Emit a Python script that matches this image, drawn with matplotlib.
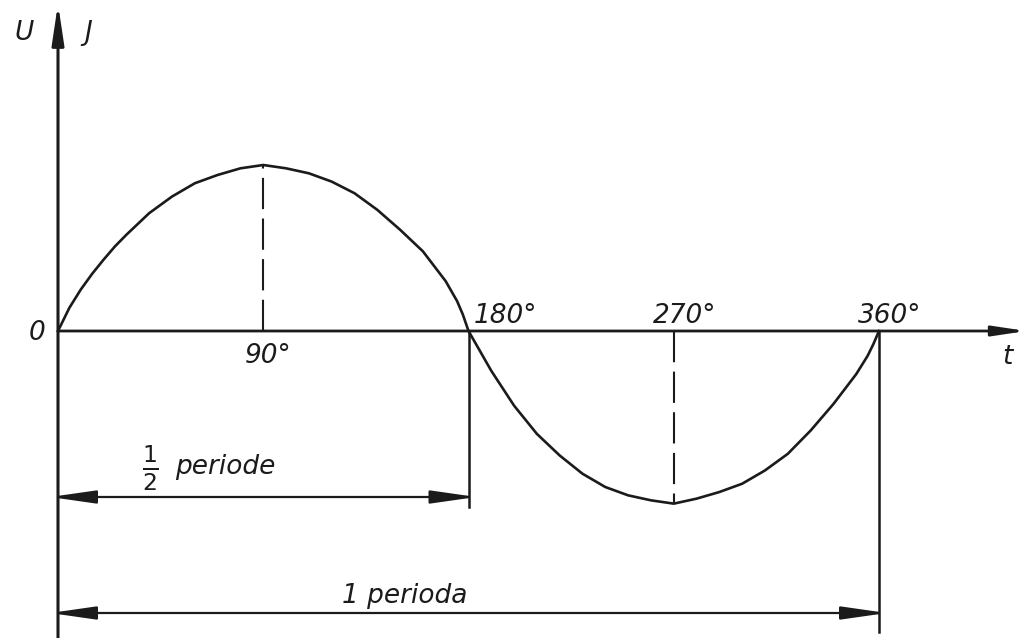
import matplotlib
matplotlib.use("Agg")
import matplotlib.pyplot as plt
import numpy as np

# curve: phase in degrees, amplitude relative to the 90 deg peak
phase_deg = [0, 2.5, 5, 10, 15, 20, 25, 30, 40, 50, 60, 70, 80, 90, 100, 110, 120, 130,
             140, 150, 160, 165, 170, 175, 177.5, 180, 182.5, 185, 190, 200, 210, 220,
             230, 240, 250, 260, 270, 280, 290, 300, 310, 320, 330, 340, 350, 355,
             357.5, 360]
amplitude = [0.00, 0.07, 0.14, 0.25, 0.345, 0.43, 0.51, 0.58, 0.71, 0.81, 0.89, 0.94,
             0.98, 1.00, 0.98, 0.95, 0.90, 0.83, 0.73, 0.61, 0.48, 0.39, 0.30, 0.18,
             0.10, 0.00, -0.06, -0.12, -0.24, -0.45, -0.62, -0.75, -0.86, -0.94,
             -0.99, -1.02, -1.04, -1.01, -0.97, -0.92, -0.84, -0.74, -0.60, -0.44,
             -0.26, -0.15, -0.08, 0.00]
tick_deg = [90, 180, 270, 360]
tick_labels = ["90°", "180°", "270°", "360°"]
half_label = "periode"
full_label = "1 perioda"

INK = "#1b1b1b"

# pixel layout of the original drawing
X0, PX_PER_DEG = 58, 821 / 360
Y0, PX_PER_UNIT = 331, 166


def dx(px):
    return (px - X0) / PX_PER_DEG


def dy(py):
    return (Y0 - py) / PX_PER_UNIT


def arrow(ax, p0, p1, lw, hl, hw, both=False):
    # matplotlib pulls the head tip back by half the stroke over sin(half angle);
    # push the end points out by the same amount so the tips land where drawn
    pad = 0.5 * lw / (hw / np.hypot(hl, hw)) * 100 / 72
    p0, p1 = np.array(p0, float), np.array(p1, float)
    u = (p1 - p0) / np.linalg.norm(p1 - p0)
    p1 = p1 + u * pad
    if both:
        p0 = p0 - u * pad
    style = ("<|-|>" if both else "-|>") + f",head_length={hl},head_width={hw}"
    ax.annotate("", xy=(dx(p1[0]), dy(p1[1])), xytext=(dx(p0[0]), dy(p0[1])),
                annotation_clip=False,
                arrowprops=dict(arrowstyle=style, mutation_scale=20, lw=lw,
                                color=INK, shrinkA=0, shrinkB=0))


fig = plt.figure(figsize=(10.19, 6.38), dpi=100)
ax = fig.add_axes([0, 0, 1, 1])
ax.set_xlim(dx(0), dx(1019))
ax.set_ylim(dy(638), dy(0))
ax.axis("off")

font = dict(family="DejaVu Sans", style="oblique", color=INK, fontsize=19)

# axes with arrows
arrow(ax, (X0, 645), (X0, 14), lw=2.2, hl=1.2, hw=0.18)
arrow(ax, (X0, Y0), (1017, Y0), lw=2.0, hl=1.0, hw=0.15)

# the wave
ax.plot(phase_deg, amplitude, color=INK, lw=1.9, solid_joinstyle="round")

# dashed helpers to peak and trough
i90 = phase_deg.index(90)
i270 = phase_deg.index(270)
ax.plot([90, 90], [0, amplitude[i90]], color=INK, lw=1.5, dashes=(15, 4.5))
ax.plot([270, 270], [0, amplitude[i270]], color=INK, lw=1.5, dashes=(15, 4.5))

# extension lines for the dimensions
ax.plot([180, 180], [0, dy(507)], color=INK, lw=1.8)
ax.plot([360, 360], [0, dy(632)], color=INK, lw=1.8)

x180 = X0 + 180 * PX_PER_DEG
x360 = X0 + 360 * PX_PER_DEG
arrow(ax, (X0, 497), (x180, 497), lw=1.6, hl=1.4, hw=0.2, both=True)
arrow(ax, (X0, 613), (x360, 613), lw=1.6, hl=1.4, hw=0.2, both=True)

# labels
ax.text(dx(24), dy(33), "U", ha="center", va="center", **font)
ax.text(dx(88), dy(33), "J", ha="center", va="center", **font)
ax.text(dx(37), dy(333), "0", ha="center", va="center", **font)
ax.text(dx(1007), dy(357), "t", ha="center", va="center", **font)

label_pos = {90: (268, 356), 180: (505, 316), 270: (685, 316), 360: (890, 316)}
for d, lab in zip(tick_deg, tick_labels):
    px, py = label_pos[d]
    ax.text(dx(px), dy(py), lab, ha="center", va="center", **font)

ax.text(dx(150), dy(468), r"$\frac{1}{2}$", ha="center", va="center",
        fontsize=24, color=INK)
ax.text(dx(175), dy(474), half_label, ha="left", va="baseline", **font)
ax.text(dx(342), dy(603), full_label, ha="left", va="baseline", **font)

fig.savefig("out.png", dpi=100, facecolor="white")
